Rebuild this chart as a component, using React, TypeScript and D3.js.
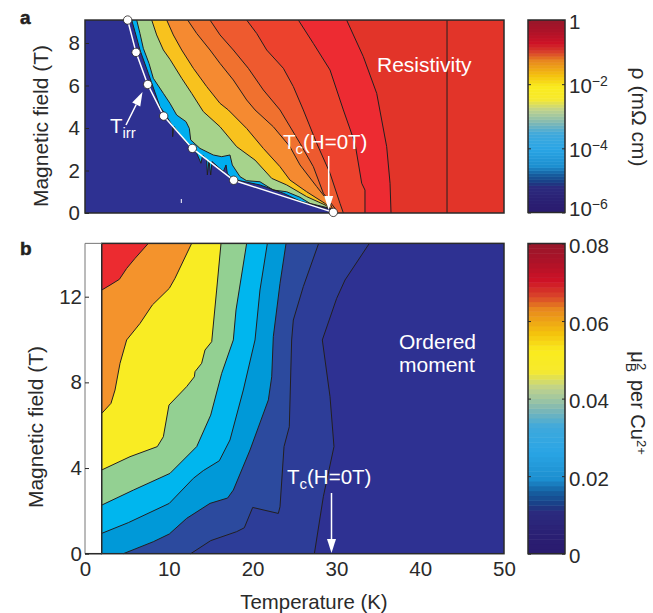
import React, { useEffect, useRef } from "react";
import * as d3 from "d3";

type Pt = [number, number];

// panel a: resistivity contours, [temperature K, field T]
const tirrPoints: Pt[] = [[5.09, 9.08], [6.09, 7.56], [7.48, 6.05], [9.39, 4.56], [12.81, 3.04], [17.74, 1.54], [29.63, 0.03]];
const rhoCyanLeft: Pt[] = [[5.57, 9.08], [5.97, 8.53], [6.56, 7.67], [7.56, 6.57], [8.95, 5.0], [9.63, 4.61], [10.46, 4.09], [10.46, 3.59], [10.58, 4.09], [12.13, 3.28], [12.81, 3.12], [13.33, 2.81], [13.84, 2.34], [14.04, 2.73], [14.52, 2.49], [14.6, 1.79], [14.8, 2.46], [15.0, 1.79], [15.16, 2.42], [16.51, 1.95], [16.83, 2.26], [16.98, 1.87], [17.3, 1.71], [17.74, 1.58], [20.88, 1.32], [23.67, 0.93], [25.66, 0.56], [29.63, 0.14]];
const rhoGreenLeft: Pt[] = [[6.17, 9.08], [6.56, 8.45], [6.96, 7.75], [7.64, 7.04], [8.15, 6.34], [9.35, 5.63], [10.14, 5.16], [10.94, 4.61], [12.05, 4.3], [12.45, 3.98], [12.61, 3.44], [13.72, 3.04], [15.31, 2.73], [16.31, 2.65], [17.3, 2.73], [17.58, 2.26], [18.5, 1.71], [19.29, 1.52], [20.88, 1.47], [22.47, 1.08], [24.07, 1.0], [25.66, 0.74], [26.85, 0.45], [29.24, 0.22], [29.63, 0.11]];
const rhoYellowLeft: Pt[] = [[7.96, 9.08], [8.55, 8.38], [9.35, 7.67], [10.14, 7.23], [11.54, 6.34], [12.73, 5.63], [14.12, 4.77], [16.11, 4.06], [18.1, 3.12], [20.29, 2.49], [22.28, 1.63], [24.07, 1.32], [26.45, 0.77], [28.64, 0.38], [29.63, 0.11]];
const rhoOrangeLeft: Pt[] = [[9.75, 9.08], [10.54, 8.38], [11.54, 7.67], [12.93, 6.81], [14.52, 5.95], [16.11, 5.16], [17.1, 4.85], [19.29, 3.98], [21.28, 3.04], [23.27, 2.18], [24.46, 1.55], [26.45, 1.0], [28.64, 0.45], [29.63, 0.11]];
const rhoOrange2Left: Pt[] = [[12.25, 9.08], [13.33, 8.45], [14.92, 7.67], [16.11, 7.04], [17.7, 6.26], [19.29, 5.32], [20.29, 4.85], [22.47, 4.06], [24.46, 3.12], [25.66, 2.26], [27.65, 1.24], [29.24, 0.45], [29.63, 0.11]];
const rhoOrange3Left: Pt[] = [[14.92, 9.08], [16.11, 8.38], [17.7, 7.67], [19.49, 6.81], [21.28, 5.79], [23.27, 4.85], [25.66, 3.28], [27.25, 2.18], [28.44, 0.93], [29.83, 0.22], [30.0, 0]];
const rhoRedLeft: Pt[] = [[19.29, 9.08], [20.49, 8.45], [21.68, 7.67], [23.67, 6.81], [24.86, 5.95], [26.05, 4.85], [27.65, 3.28], [29.24, 1.87], [30.43, 0.45], [30.83, 0]];
const rhoBrightLeft: Pt[] = [[25.46, 9.08], [27.25, 7.98], [29.24, 6.73], [30.83, 4.85], [32.22, 3.28], [33.02, 1.4], [33.41, 1.08], [33.41, 0]];
const rhoDeepLeft: Pt[] = [[31.22, 9.08], [33.21, 7.36], [34.81, 5.63], [36.0, 3.12], [36.4, 1.4], [36.52, 0]];
const rhoVertical: Pt[] = [[43.2, 9.08], [43.2, 0]];

const rhoContours = [rhoCyanLeft, rhoGreenLeft, rhoYellowLeft, rhoOrangeLeft, rhoOrange2Left, rhoOrange3Left, rhoRedLeft, rhoBrightLeft, rhoDeepLeft, rhoVertical];
const rhoFills = ["#00aeef", "#a6d38c", "#f8c21e", "#f58a31", "#f0712f", "#ee5a2f", "#ec422d", "#ed2b32", "#e23429", "#e23429"];

// panel b: ordered moment contours
const momA: Pt[] = [[2, 12.31], [2.98, 12.54], [4.1, 12.81], [4.97, 13.32], [5.97, 13.79], [7.56, 14.49]];
const momB: Pt[] = [[2, 6.55], [3.1, 7.02], [3.58, 7.64], [4.18, 8.89], [4.97, 9.98], [6.56, 10.75], [8.03, 11.61], [10.06, 12.39], [10.74, 12.86], [12.73, 14.49]];
const momC: Pt[] = [[2, 3.91], [5.37, 4.53], [8.63, 5.0], [9.35, 5.46], [10.02, 6.94], [12.13, 7.8], [13.05, 8.26], [13.13, 8.5], [13.92, 8.89], [14.32, 9.51], [15.12, 9.9], [15.71, 12.31], [16.23, 14.49]];
const momD: Pt[] = [[2, 2.27], [5.77, 2.97], [10.14, 3.75], [13.33, 5.0], [15.0, 6.47], [16.31, 8.42], [17.7, 9.98], [18.02, 11.38], [19.29, 14.49]];
const momE: Pt[] = [[2, 0.95], [5.17, 1.45], [10.06, 2.35], [12.93, 3.52], [14.12, 3.88], [16.03, 4.34], [17.3, 5.31], [18.89, 7.64], [20.29, 9.98], [20.88, 12.31], [21.76, 14.49]];
const momF: Pt[] = [[4.57, 0], [8.15, 0.56], [10.06, 0.92], [12.13, 1.65], [14.92, 2.35], [17.02, 2.6], [17.7, 2.97], [19.69, 4.84], [21.88, 7.18], [22.28, 8.26], [22.47, 10.13], [23.27, 12.62], [23.99, 14.49]];
const momG: Pt[] = [[12.61, 0], [15.0, 0.61], [18.1, 1.03], [19.01, 1.21], [20.01, 2.16], [23.07, 1.88], [23.27, 2.19], [23.75, 5.0], [24.38, 5.93], [24.66, 9.98], [24.86, 10.91], [26.05, 12.47], [27.88, 14.49]];
const momH: Pt[] = [[27.37, 0], [28.44, 2.66], [29.71, 5.0], [29.24, 7.33], [28.32, 9.98], [30.03, 11.92], [31.03, 12.78], [33.93, 14.49]];

const momContours = [momA, momB, momC, momD, momE, momF, momG, momH];
const momFills = ["#f4932c", "#f9ec23", "#93d092", "#00b6ee", "#0099d8", "#2c4a9e", "#2d3d98", "#2e3192"];

// colorbar ramp, bottom to top
const rampPos = [0, 0.03, 0.135, 0.155, 0.2, 0.24, 0.33, 0.41, 0.465, 0.5, 0.535, 0.59, 0.655, 0.71, 0.79, 0.83, 0.88, 0.95, 1];
const rampColors = ["#2a1c70", "#2a1c70", "#2b2a7e", "#1a3b83", "#155fa0", "#1c8ecf", "#2aa5e5", "#3fa9dc", "#7db7b5", "#a0c7a0", "#bfd28c", "#f7ea2c", "#faeb1e", "#f4c40d", "#e8861e", "#d9452a", "#ce1226", "#aa1228", "#97182a"];
const rampBands = d3.range(64);

const fieldTicksA = [0, 2, 4, 6, 8];
const fieldTicksB = [0, 4, 8, 12];
const tempTicks = [0, 10, 20, 30, 40, 50];
const rhoTicks = [1e-6, 1e-4, 1e-2, 1];
const rhoTickPowers = ["−6", "−4", "−2", ""];
const momTicks = [0, 0.02, 0.04, 0.06, 0.08];

const DARK = "#2a2a2a";
const FONT = "'Liberation Sans', Arial, sans-serif";

export default function App() {
  const ref = useRef<SVGSVGElement>(null);

  useEffect(() => {
    const svg = d3.select(ref.current);
    svg.selectAll("*").remove();
    svg.style("font-family", FONT);

    const x = d3.scaleLinear().domain([0, 50]).range([85, 504]);
    const yA = d3.scaleLinear().domain([0, 8]).range([213, 43]);
    const yB = d3.scaleLinear().domain([0, 12]).range([553.7, 296.7]);
    const topA = 9.08;
    const topB = 14.49;

    const drawPanel = (contours: Pt[][], fills: string[], y: d3.ScaleLinear<number, number>, top: number, xMin: number) => {
      const line = d3.line<Pt>().x((d) => x(d[0])).y((d) => y(d[1]));
      contours.forEach((c, i) => {
        const closed: Pt[] = [...c, [50, c[c.length - 1][1] > 0.5 ? top : 0]];
        if (closed[closed.length - 1][1] === top) closed.push([50, 0]);
        else closed.push([50, top]);
        if (c[0][1] > 0 && c[0][1] < top) closed.push([xMin, 0]);
        svg.append("path").attr("d", line(closed) + "Z").attr("fill", fills[i]);
      });
      contours.forEach((c) => {
        svg.append("path").attr("d", line(c)).attr("fill", "none").attr("stroke", "#231f20").attr("stroke-width", 1).attr("stroke-linejoin", "round");
      });
    };

    // panel a
    svg.append("rect").attr("x", x(0)).attr("y", yA(topA)).attr("width", x(50) - x(0)).attr("height", yA(0) - yA(topA)).attr("fill", "#2e3192");
    drawPanel(rhoContours, rhoFills, yA, topA, 0);
    svg.append("rect").attr("x", x(0)).attr("y", yA(topA)).attr("width", x(50) - x(0)).attr("height", yA(0) - yA(topA)).attr("fill", "none").attr("stroke", DARK).attr("stroke-width", 1.5);

    // panel b
    svg.append("rect").attr("x", x(2)).attr("y", yB(topB)).attr("width", x(50) - x(2)).attr("height", yB(0) - yB(topB)).attr("fill", "#ec2b30");
    drawPanel(momContours, momFills, yB, topB, 2);
    svg.append("rect").attr("x", x(2)).attr("y", yB(topB)).attr("width", x(50) - x(2)).attr("height", yB(0) - yB(topB)).attr("fill", "none").attr("stroke", DARK).attr("stroke-width", 1.5);
    svg.append("path").attr("d", `M${x(2)},${yB(topB)}H${x(0)}V${yB(0)}H${x(2)}`).attr("fill", "none").attr("stroke", "#777").attr("stroke-width", 1);
    svg.append("line").attr("x1", x(0)).attr("x2", x(2)).attr("y1", yB(0)).attr("y2", yB(0)).attr("stroke", DARK).attr("stroke-width", 1.5);

    const styleAxis = (g: d3.Selection<SVGGElement, unknown, null, undefined>) => {
      g.select(".domain").remove();
      g.selectAll("text").attr("font-size", 20.5).attr("fill", DARK).attr("font-family", FONT);
      g.selectAll("line").attr("stroke", DARK);
    };

    svg.append("g").attr("transform", `translate(${x(0)},0)`)
      .call(d3.axisLeft(yA).tickValues(fieldTicksA).tickFormat(d3.format("d")).tickSizeInner(-4).tickSizeOuter(0).tickPadding(5) as any)
      .call(styleAxis as any);
    svg.append("g").attr("transform", `translate(${x(0)},0)`)
      .call(d3.axisLeft(yB).tickValues(fieldTicksB).tickFormat(d3.format("d")).tickSizeInner(-4).tickSizeOuter(0).tickPadding(3) as any)
      .call(styleAxis as any);
    svg.append("g").attr("transform", `translate(0,${yB(0)})`)
      .call(d3.axisBottom(x).tickValues(tempTicks).tickFormat(d3.format("d")).tickSize(0).tickPadding(8) as any)
      .call(styleAxis as any);

    // colorbars
    const ramp = d3.scaleLinear<string>().domain(rampPos).range(rampColors).interpolate(d3.interpolateRgb);
    const bandScale = d3.scaleBand<number>().domain(rampBands);
    const drawBar = (y0: number, y1: number) => {
      bandScale.range([y0, y1]);
      svg.append("g").selectAll("rect").data(rampBands).join("rect")
        .attr("x", 528).attr("width", 37)
        .attr("y", (d) => bandScale(d)!)
        .attr("height", bandScale.bandwidth() + 0.5)
        .attr("fill", (d) => ramp((d + 0.5) / rampBands.length));
      svg.append("rect").attr("x", 528).attr("y", y1).attr("width", 37).attr("height", y0 - y1).attr("fill", "none").attr("stroke", DARK).attr("stroke-width", 1.5);
    };
    drawBar(212.5, 20);
    drawBar(553.7, 243.5);

    const rhoScale = d3.scaleLog().domain([1e-6, 1]).range([212.5, 20]);
    const rhoAxis = svg.append("g").attr("transform", "translate(565,0)")
      .call(d3.axisRight(rhoScale).tickValues(rhoTicks).tickFormat(() => "").tickSizeInner(0).tickSizeOuter(0) as any);
    rhoAxis.select(".domain").remove();
    rhoAxis.selectAll<SVGGElement, number>("g.tick").each(function (d) {
      const i = rhoTicks.indexOf(d);
      const g = d3.select(this);
      g.append("line").attr("x1", -37).attr("x2", -34).attr("stroke", DARK);
      g.append("line").attr("x1", -3).attr("x2", 0).attr("stroke", DARK);
      const t = g.select("text").attr("x", 4).attr("dy", i === 0 ? "0.15em" : "0.42em").attr("font-size", 20.5).attr("fill", DARK).attr("font-family", FONT);
      if (rhoTickPowers[i]) {
        t.append("tspan").text("10");
        t.append("tspan").attr("dy", -7).attr("font-size", 14).text(rhoTickPowers[i]);
      } else {
        t.attr("dy", "0.42em").append("tspan").text("1");
      }
    });

    const momScale = d3.scaleLinear().domain([0, 0.08]).range([553.7, 243.5]);
    const momAxis = svg.append("g").attr("transform", "translate(565,0)")
      .call(d3.axisRight(momScale).tickValues(momTicks).tickFormat((d) => (d === 0 ? "0" : d3.format(".2f")(d as number))).tickSizeInner(0).tickSizeOuter(0).tickPadding(4) as any);
    momAxis.select(".domain").remove();
    momAxis.selectAll<SVGGElement, number>("g.tick").each(function () {
      const g = d3.select(this);
      g.append("line").attr("x1", -37).attr("x2", -34).attr("stroke", DARK);
      g.append("line").attr("x1", -3).attr("x2", 0).attr("stroke", DARK);
      g.select("text").attr("dy", "0.44em").attr("font-size", 20.5).attr("fill", DARK).attr("font-family", FONT);
    });

    // irreversibility line
    const tirrLine = d3.line<Pt>().x((d) => x(d[0])).y((d) => yA(d[1]));
    svg.append("path").attr("d", tirrLine(tirrPoints)).attr("fill", "none").attr("stroke", "#fff").attr("stroke-width", 1.5);
    svg.append("g").selectAll("circle").data(tirrPoints).join("circle")
      .attr("cx", (d) => x(d[0])).attr("cy", (d) => yA(d[1])).attr("r", 4.2)
      .attr("fill", "#fff").attr("stroke", "#231f20").attr("stroke-width", 0.8);
    svg.append("rect").attr("x", 180.8).attr("y", 199).attr("width", 1).attr("height", 4).attr("fill", "#fff");

    const label = (tx: number, ty: number, s: string, size = 20, fill = "#fff") =>
      svg.append("text").attr("x", tx).attr("y", ty).attr("font-size", size).attr("fill", fill).text(s);

    const arrow = (x1: number, y1: number, x2: number, y2: number) => {
      const a = Math.atan2(y2 - y1, x2 - x1);
      const len = 14, w = 4.5;
      const bx = x2 - len * Math.cos(a), by = y2 - len * Math.sin(a);
      svg.append("line").attr("x1", x1).attr("y1", y1).attr("x2", bx).attr("y2", by).attr("stroke", "#fff").attr("stroke-width", 1.5);
      svg.append("path").attr("fill", "#fff")
        .attr("d", `M${x2},${y2}L${bx - w * Math.sin(a)},${by + w * Math.cos(a)}L${bx + w * Math.sin(a)},${by - w * Math.cos(a)}Z`);
    };

    const subLabel = (tx: number, ty: number, main: string, sub: string, rest: string) => {
      const t = svg.append("text").attr("x", tx).attr("y", ty).attr("font-size", 20.5).attr("fill", "#fff");
      t.append("tspan").text(main);
      t.append("tspan").attr("dy", 5).attr("font-size", 15).text(sub);
      if (rest) t.append("tspan").attr("dy", -5).text(rest);
    };

    label(377, 72, "Resistivity", 21);
    subLabel(110, 133, "T", "irr", "");
    arrow(126, 125, 142.5, 92);
    subLabel(283, 149, "T", "c", "(H=0T)");
    arrow(328.7, 156, 328.7, 210);

    label(399, 349, "Ordered", 21);
    label(399, 372, "moment", 21);
    subLabel(287, 484, "T", "c", "(H=0T)");
    arrow(331.5, 493, 331.5, 553);

    // panel letters and titles
    label(20, 24, "a", 19, "#231f20").attr("font-weight", "bold").attr("stroke", "#231f20").attr("stroke-width", 0.5);
    label(20, 255, "b", 19, "#231f20").attr("font-weight", "bold").attr("stroke", "#231f20").attr("stroke-width", 0.5);

    const rotated = (tx: number, ty: number, angle: number, s: string) =>
      svg.append("text").attr("transform", `translate(${tx},${ty}) rotate(${angle})`).attr("text-anchor", "middle").attr("font-size", 21).attr("fill", DARK).text(s);

    rotated(48, 126, -90, "Magnetic field (T)");
    rotated(43, 427, -90, "Magnetic field (T)");
    rotated(632, 117, 90, "ρ (mΩ cm)");
    label(314, 609, "Temperature (K)", 20.4, DARK).attr("text-anchor", "middle");

    const mu = svg.append("text").attr("transform", "translate(631,403) rotate(90)").attr("text-anchor", "middle").attr("font-size", 20).attr("fill", DARK);
    mu.append("tspan").text("μ");
    mu.append("tspan").attr("dy", 5).attr("font-size", 14).text("B");
    mu.append("tspan").attr("dy", -11).attr("dx", -9).attr("font-size", 13).text("2");
    mu.append("tspan").attr("dy", 6).attr("dx", 4).text(" per Cu");
    mu.append("tspan").attr("dy", -6).attr("font-size", 13).text("2+");
  }, []);

  return <svg ref={ref} width={653} height={613} style={{ position: "absolute", left: 0, top: 0, background: "#fff" }} />;
}
